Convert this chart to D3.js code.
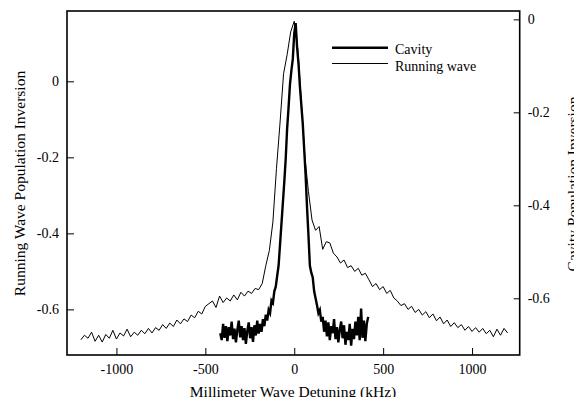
<!DOCTYPE html>
<html>
<head>
<meta charset="utf-8">
<script src="https://cdn.jsdelivr.net/npm/d3@7"></script>
<style>
body { margin: 0; background: #fff; }
svg { display: block; font-family: "Liberation Serif", "DejaVu Serif", serif; }
</style>
</head>
<body>
<script>
var width = 574,
    height = 397;

// x grids (kHz)
var runningX = d3.range(-1200, 1201, 20);
var cavityX = d3.range(-416, 417, 8);

// running wave population inversion (left axis)
var runningY = [
    -0.680, -0.668, -0.676, -0.660, -0.684, -0.668, -0.686, -0.666, -0.676, -0.655,
    -0.678, -0.662, -0.670, -0.652, -0.672, -0.660, -0.668, -0.655, -0.664, -0.650,
    -0.662, -0.648, -0.655, -0.640, -0.650, -0.636, -0.645, -0.628, -0.638, -0.625,
    -0.632, -0.615, -0.622, -0.605, -0.612, -0.592, -0.585, -0.578, -0.595, -0.565,
    -0.582, -0.570, -0.578, -0.562, -0.575, -0.555, -0.565, -0.552, -0.558, -0.545,
    -0.548, -0.532, -0.485, -0.445, -0.370, -0.230, -0.110, 0.020, 0.070, 0.130,
    0.158, 0.085, -0.055, -0.200, -0.290, -0.365, -0.392, -0.382, -0.442, -0.422,
    -0.425, -0.452, -0.462, -0.478, -0.470, -0.490, -0.485, -0.500, -0.492, -0.510,
    -0.505, -0.522, -0.540, -0.532, -0.548, -0.540, -0.558, -0.550, -0.570, -0.578,
    -0.590, -0.585, -0.600, -0.592, -0.608, -0.600, -0.615, -0.606, -0.622, -0.612,
    -0.630, -0.620, -0.638, -0.628, -0.645, -0.635, -0.648, -0.640, -0.655, -0.645,
    -0.658, -0.648, -0.660, -0.650, -0.664, -0.655, -0.672, -0.652, -0.668, -0.650,
    -0.662
];

// cavity population inversion (right axis)
var cavityY = [
    -0.675, -0.690, -0.655, -0.685, -0.660, -0.692, -0.662, -0.680, -0.650, -0.688,
    -0.665, -0.695, -0.668, -0.648, -0.684, -0.660, -0.690, -0.664, -0.698, -0.670,
    -0.652, -0.686, -0.662, -0.694, -0.658, -0.680, -0.648, -0.676, -0.655, -0.672,
    -0.645, -0.660, -0.635, -0.648, -0.625, -0.632, -0.605, -0.610, -0.585, -0.575,
    -0.552, -0.530, -0.485, -0.440, -0.395, -0.350, -0.300, -0.235, -0.190, -0.140,
    -0.110, -0.085, -0.030, -0.008, -0.060, -0.095, -0.145, -0.185, -0.225, -0.280,
    -0.335, -0.405, -0.465, -0.530, -0.545, -0.555, -0.585, -0.600, -0.615, -0.632,
    -0.625, -0.650, -0.640, -0.672, -0.648, -0.682, -0.652, -0.690, -0.660, -0.675,
    -0.645, -0.688, -0.662, -0.695, -0.668, -0.650, -0.686, -0.658, -0.700, -0.672,
    -0.690, -0.655, -0.702, -0.666, -0.688, -0.650, -0.680, -0.640, -0.690, -0.622,
    -0.685, -0.648, -0.692, -0.655, -0.640
];

var xTicks = [-1000, -500, 0, 500, 1000];
var leftTicks = [0, -0.2, -0.4, -0.6];
var rightTicks = [0, -0.2, -0.4, -0.6];
var seriesNames = ["Cavity", "Running wave"];

var plot = { left: 67, top: 11, right: 519.7, bottom: 355 };

var svg = d3.select("body")
    .append("svg")
    .attr("width", width)
    .attr("height", height);

var x = d3.scaleLinear()
    .domain([-1278, 1268])
    .range([plot.left, plot.right]);

var yLeft = d3.scaleLinear()
    .domain([-0.72, 0.185])
    .range([plot.bottom, plot.top]);

var yRight = d3.scaleLinear()
    .domain([-0.722, 0.018])
    .range([plot.bottom, plot.top]);

function styleAxis(g) {
    g.select(".domain").remove();
    g.selectAll(".tick line").attr("stroke", "#000").attr("stroke-width", 1);
    g.selectAll(".tick text")
        .attr("fill", "#000")
        .style("font-size", "14px")
        .style("font-family", "'Liberation Serif', serif");
}

var fmt = function (d) { return d === 0 ? "0" : d3.format(".1f")(d).replace("−", "-"); };

svg.append("g")
    .attr("transform", "translate(0," + plot.bottom + ")")
    .call(d3.axisBottom(x).tickValues(xTicks).tickSize(-7).tickPadding(9)
        .tickFormat(function (d) { return String(d); }))
    .call(styleAxis);

svg.append("g")
    .attr("transform", "translate(" + plot.left + ",0)")
    .call(d3.axisLeft(yLeft).tickValues(leftTicks).tickSize(-7).tickPadding(8).tickFormat(fmt))
    .call(styleAxis);

svg.append("g")
    .attr("transform", "translate(" + plot.right + ",0)")
    .call(d3.axisRight(yRight).tickValues(rightTicks).tickSize(-6).tickPadding(8).tickFormat(fmt))
    .call(styleAxis);

// frame
svg.append("rect")
    .attr("x", plot.left)
    .attr("y", plot.top)
    .attr("width", plot.right - plot.left)
    .attr("height", plot.bottom - plot.top)
    .attr("fill", "none")
    .attr("stroke", "#000")
    .attr("stroke-width", 1.6);

var runningLine = d3.line()
    .x(function (d, i) { return x(runningX[i]); })
    .y(function (d) { return yLeft(d); });

var cavityLine = d3.line()
    .x(function (d, i) { return x(cavityX[i]); })
    .y(function (d) { return yRight(d); });

svg.append("path")
    .datum(runningY)
    .attr("d", runningLine)
    .attr("fill", "none")
    .attr("stroke", "#000")
    .attr("stroke-width", 1)
    .attr("stroke-linejoin", "miter");

svg.append("path")
    .datum(cavityY)
    .attr("d", cavityLine)
    .attr("fill", "none")
    .attr("stroke", "#000")
    .attr("stroke-width", 2.4)
    .attr("stroke-linejoin", "miter");

// legend
var legend = svg.append("g");
var legendRows = [
    { name: seriesNames[0], width: 2.6, ly: 47.7, ty: 54 },
    { name: seriesNames[1], width: 1, ly: 63.5, ty: 70.5 }
];
legendRows.forEach(function (r) {
    legend.append("line")
        .attr("x1", 332).attr("x2", 388)
        .attr("y1", r.ly).attr("y2", r.ly)
        .attr("stroke", "#000")
        .attr("stroke-width", r.width);
    legend.append("text")
        .attr("x", 395)
        .attr("y", r.ty)
        .style("font-size", "14px")
        .text(r.name);
});

// axis titles
svg.append("text")
    .attr("x", 293)
    .attr("y", 397)
    .attr("text-anchor", "middle")
    .style("font-size", "15.5px")
    .text("Millimeter Wave Detuning (kHz)");

svg.append("text")
    .attr("transform", "translate(25,183.5) rotate(-90)")
    .attr("text-anchor", "middle")
    .style("font-size", "15.5px")
    .text("Running Wave Population Inversion");

svg.append("text")
    .attr("transform", "translate(578,184) rotate(-90)")
    .attr("text-anchor", "middle")
    .style("font-size", "15.5px")
    .text("Cavity Population Inversion");
</script>
</body>
</html>
